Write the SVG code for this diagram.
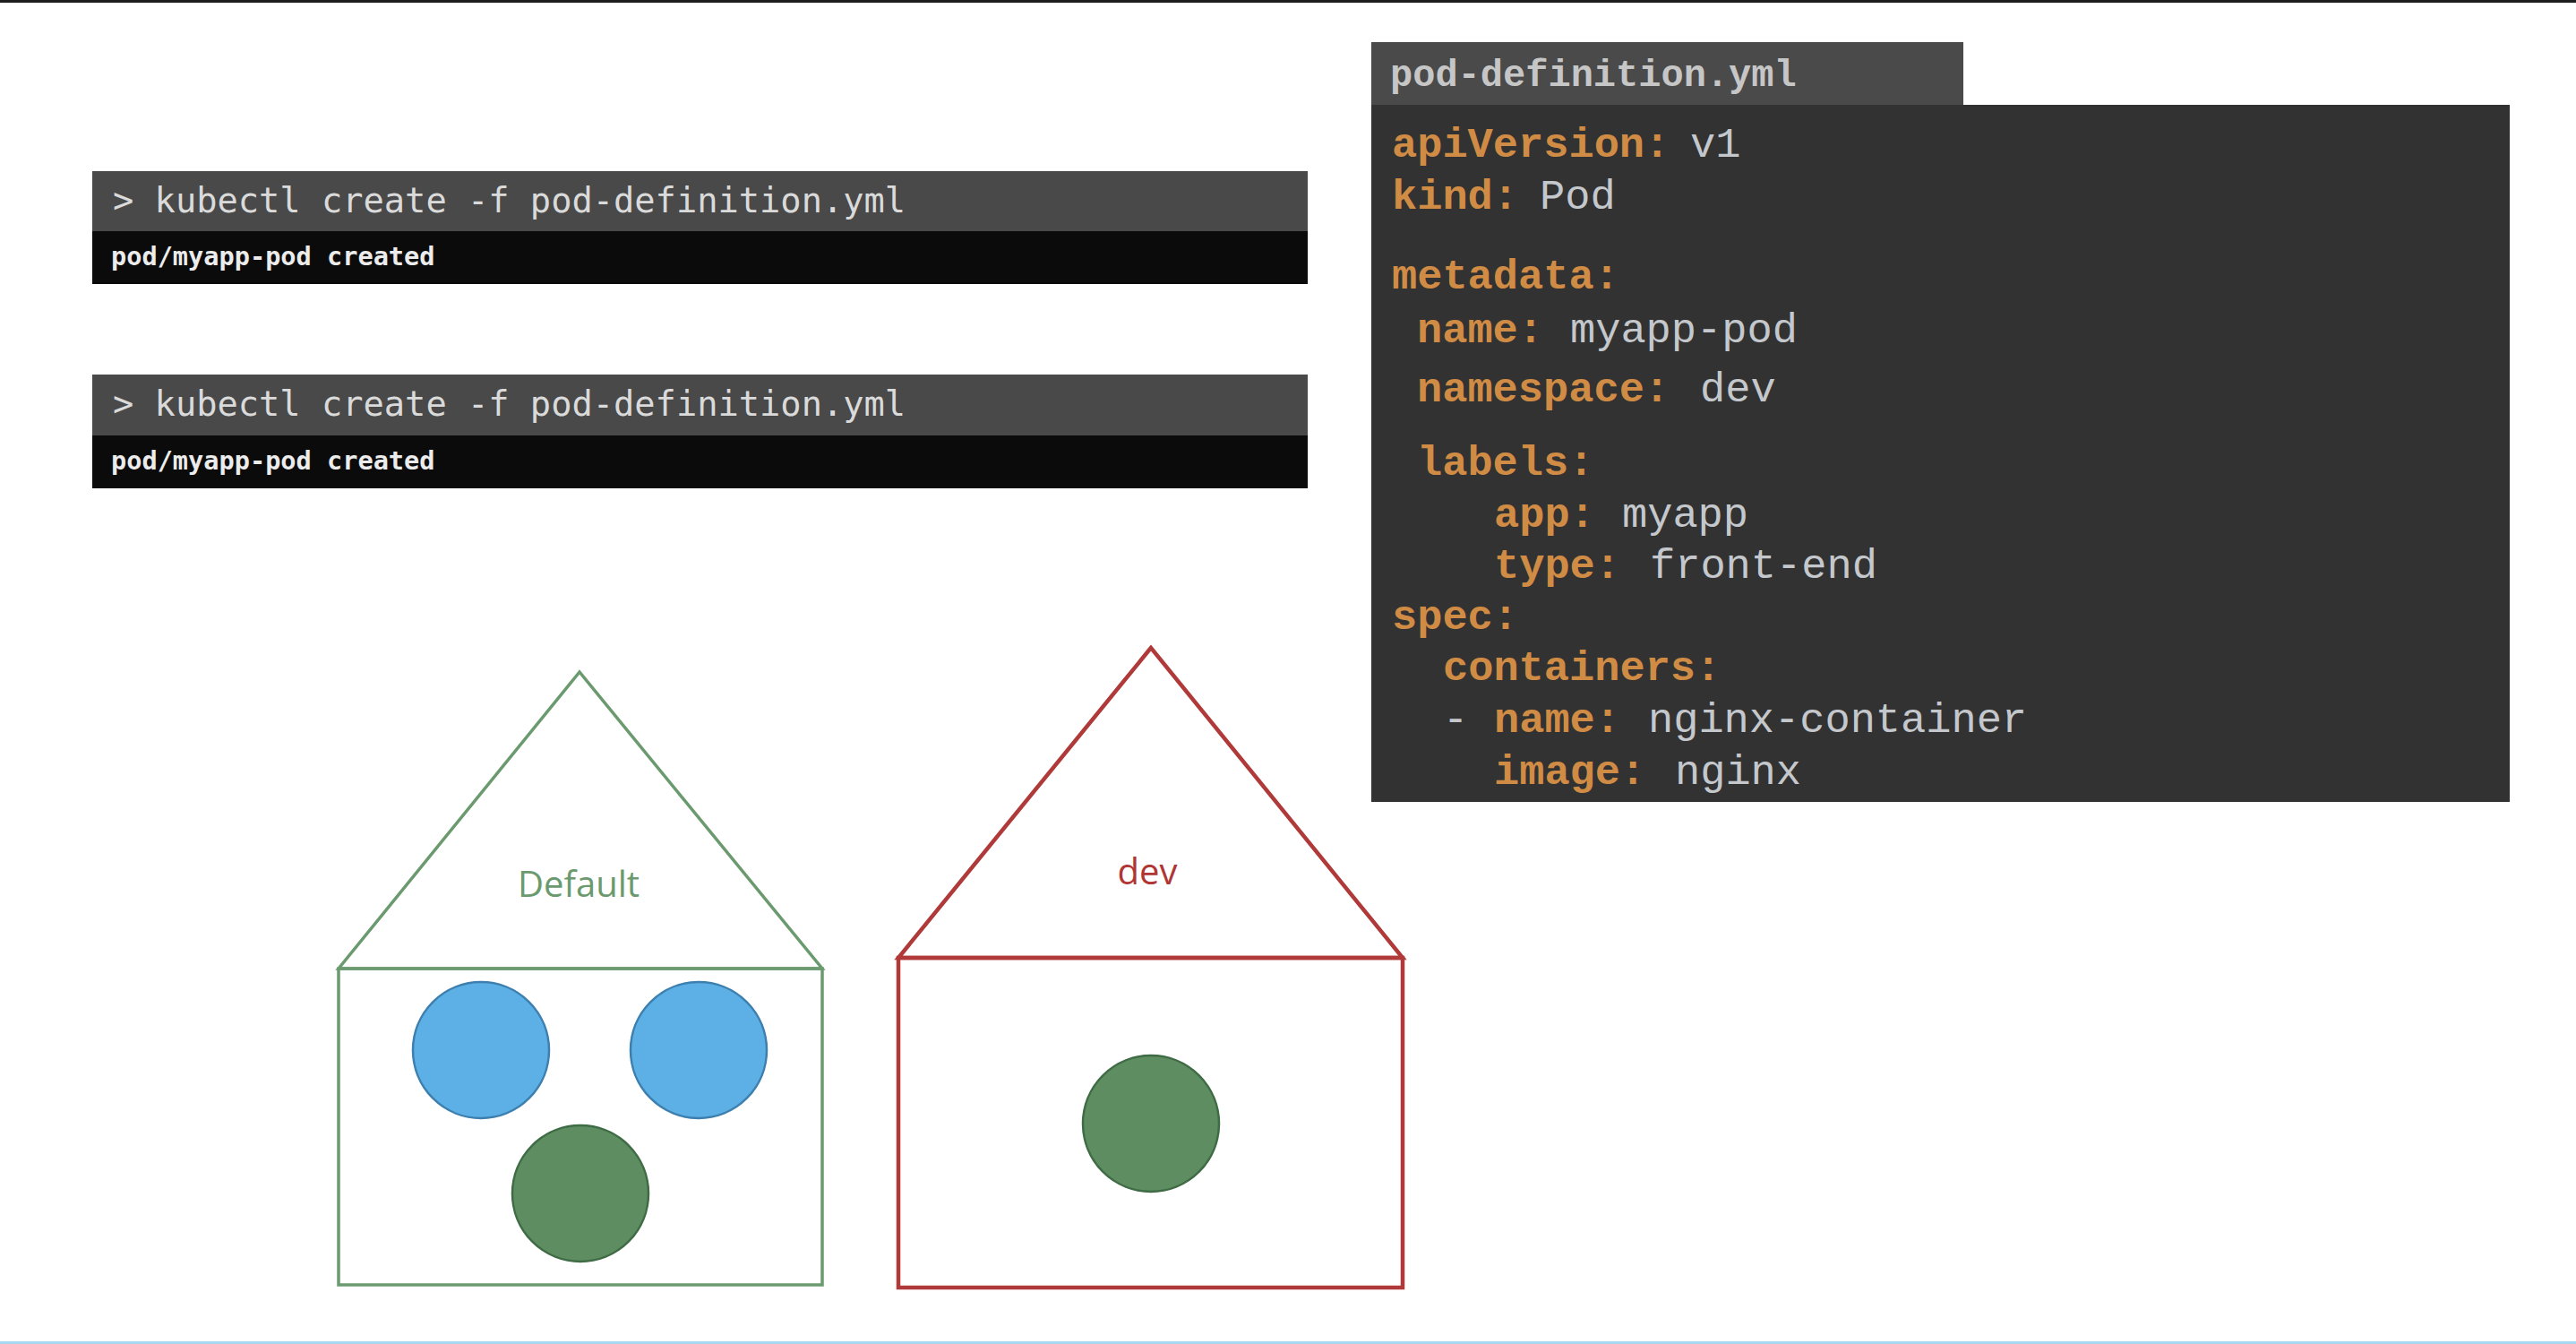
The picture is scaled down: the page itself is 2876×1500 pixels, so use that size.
<svg xmlns="http://www.w3.org/2000/svg" width="2876" height="1500" viewBox="0 0 2876 1500">
<style>
.term-head{fill:#494949}
.term-out{fill:#0b0b0b}
.cmd{font-family:"DejaVu Sans Mono","Liberation Mono",monospace;font-size:38.7px;fill:#dadada}
.out{font-family:"DejaVu Sans Mono","Liberation Mono",monospace;font-size:28.6px;font-weight:bold;fill:#ececec}
.yk{font-family:"Liberation Mono","Courier New",monospace;font-size:47px;font-weight:bold;fill:#d08b45}
.yv{font-family:"Liberation Mono","Courier New",monospace;font-size:47px;fill:#c4c8cc}
.tab{font-family:"Liberation Mono","Courier New",monospace;font-size:42px;font-weight:bold;fill:#c6c6c6}
.lbl{font-family:"Open Sans","Liberation Sans",sans-serif;font-size:40px;text-anchor:middle}
.pod-blue{fill:#5cb0e5;stroke:#3d7fae;stroke-width:2.5}
.pod-green{fill:#5e8d62;stroke:#3f6b45;stroke-width:2.5}
</style>
<rect x="0" y="0" width="2876" height="1500" fill="#ffffff"/>
<rect x="0" y="0" width="2876" height="3" fill="#1e1e1e"/>
<rect x="0" y="1497" width="2876" height="3" fill="#a8d8ef"/>

<g id="terminal-1">
<rect class="term-out" x="103" y="191" width="1357" height="126"/>
<rect class="term-head" x="103" y="191" width="1357" height="67"/>
<text class="cmd" x="126" y="237">&gt; kubectl create -f pod-definition.yml</text>
<text class="out" x="124" y="296">pod/myapp-pod created</text>
</g>

<g id="terminal-2">
<rect class="term-out" x="103" y="418" width="1357" height="127"/>
<rect class="term-head" x="103" y="418" width="1357" height="68"/>
<text class="cmd" x="126" y="464">&gt; kubectl create -f pod-definition.yml</text>
<text class="out" x="124" y="524">pod/myapp-pod created</text>
</g>

<g id="yaml-file">
<rect x="1531" y="47" width="661" height="71" fill="#4a4a4a"/>
<rect x="1531" y="117" width="1271" height="778" fill="#323232"/>
<text class="tab" x="1552" y="96">pod-definition.yml</text>
<text class="yk" x="1554" y="175">apiVersion:</text><text class="yv" x="1887" y="175">v1</text>
<text class="yk" x="1554" y="233">kind:</text><text class="yv" x="1719" y="233">Pod</text>
<text class="yk" x="1554" y="322">metadata:</text>
<text class="yk" x="1582" y="382">name:</text><text class="yv" x="1753" y="382">myapp-pod</text>
<text class="yk" x="1582" y="448">namespace:</text><text class="yv" x="1898" y="448">dev</text>
<text class="yk" x="1582" y="530">labels:</text>
<text class="yk" x="1668" y="588">app:</text><text class="yv" x="1811" y="588">myapp</text>
<text class="yk" x="1668" y="645">type:</text><text class="yv" x="1842" y="645">front-end</text>
<text class="yk" x="1554" y="702">spec:</text>
<text class="yk" x="1611" y="759">containers:</text>
<text class="yv" x="1611" y="817">-</text><text class="yk" x="1668" y="817">name:</text><text class="yv" x="1840" y="817">nginx-container</text>
<text class="yk" x="1668" y="875">image:</text><text class="yv" x="1870" y="875">nginx</text>
</g>

<g id="ns-default">
<polygon points="647,750 378,1081 918,1081" fill="none" stroke="#6b9a6f" stroke-width="3.5"/>
<rect x="378" y="1081" width="540" height="353" fill="none" stroke="#6b9a6f" stroke-width="3.5"/>
<text class="lbl" x="646" y="1001" fill="#6a9a6e">Default</text>
<circle class="pod-blue" cx="537" cy="1172" r="76"/>
<circle class="pod-blue" cx="780" cy="1172" r="76"/>
<circle class="pod-green" cx="648" cy="1332" r="76"/>
</g>

<g id="ns-dev">
<polygon points="1285,723 1003,1069 1566,1069" fill="none" stroke="#b03a3a" stroke-width="4.5"/>
<rect x="1003" y="1069" width="563" height="368" fill="none" stroke="#b03a3a" stroke-width="4.5"/>
<text class="lbl" x="1281" y="987" fill="#b03535">dev</text>
<circle class="pod-green" cx="1285" cy="1254" r="76"/>
</g>
</svg>
